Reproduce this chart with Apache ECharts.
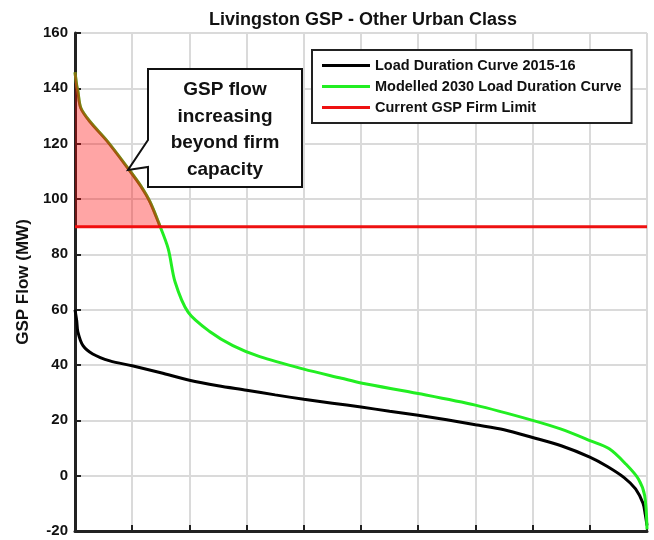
<!DOCTYPE html>
<html>
<head>
<meta charset="utf-8">
<script src="https://cdn.jsdelivr.net/npm/echarts@6/dist/echarts.min.js"></script>
<style>
html,body{margin:0;padding:0;background:#fff;}
#chart{width:654px;height:540px;}
</style>
</head>
<body>
<div id="chart"></div>
<script>
// Duration (% of time) and flow (MW) readings
var blackX = [0, 0.3, 0.5, 1.4, 3.1, 6.1, 10, 15, 20, 25, 30, 35, 40, 45, 50, 55, 60, 65, 70, 75, 80, 85, 90, 93, 96, 98, 99.3, 99.7, 100];
var blackY = [60, 56, 52, 47, 44, 41.5, 39.7, 37.2, 34.5, 32.5, 30.9, 29.2, 27.6, 26.2, 24.8, 23.3, 21.8, 20.2, 18.4, 16.6, 13.8, 10.8, 6.7, 3.4, -0.7, -4.8, -10, -14, -18];
var greenX = [0, 0.3, 0.5, 1, 2.6, 5.6, 9.3, 11.4, 13.1, 14.7, 16.3, 17.5, 19.8, 23.6, 27.6, 32.3, 40, 46.6, 50, 60, 70, 80, 85, 90, 93.4, 96.3, 98.5, 99.6, 100];
var greenY = [145.8, 141, 139, 133, 128, 121, 111, 105, 99, 91, 82, 70, 59, 52, 47, 43, 38.5, 35.2, 33.5, 29.7, 25.5, 20, 16.8, 12.7, 9.7, 4.2, -1.2, -7.3, -19.4];
var firmLimit = 90;
var firmLimitX = [0, 100];
var yTicks = [-20, 0, 20, 40, 60, 80, 100, 120, 140, 160];
var seriesNames = ['Load Duration Curve 2015-16', 'Modelled 2030 Load Duration Curve', 'Current GSP Firm Limit'];
var titleText = 'Livingston GSP - Other Urban Class';
var yAxisName = 'GSP Flow (MW)';
var calloutLines = ['GSP flow', 'increasing', 'beyond firm', 'capacity'];

function pairs(xs, ys) { return xs.map(function (x, i) { return [x, ys[i]]; }); }
var blackData = pairs(blackX, blackY);
var greenData = pairs(greenX, greenY);
// portion of the 2030 curve above the firm limit
var exceedData = [];
for (var i = 0; i < greenData.length; i++) {
  if (greenData[i][1] >= firmLimit) exceedData.push(greenData[i]);
  else {
    var p = greenData[i - 1], q = greenData[i];
    var t = (p[1] - firmLimit) / (p[1] - q[1]);
    exceedData.push([p[0] + t * (q[0] - p[0]), firmLimit]);
    break;
  }
}
var firmData = firmLimitX.map(function (x) { return [x, firmLimit]; });

var FONT = '"Liberation Sans", Arial, sans-serif';
var chart = echarts.init(document.getElementById('chart'), null, {renderer: 'canvas'});
chart.setOption({
  backgroundColor: '#fff',
  animation: false,
  title: {
    text: titleText, left: 358, top: 6, textAlign: 'center',
    textStyle: {fontFamily: FONT, fontSize: 18, fontWeight: 'bold', color: '#111'}
  },
  grid: {left: 75, right: 7, top: 33, bottom: 9},
  legend: {
    orient: 'vertical', left: 312, top: 50,
    data: seriesNames.map(function (n) { return {name: n, icon: 'rect'}; }),
    itemWidth: 48, itemHeight: 3, itemGap: 6,
    padding: [8, 10, 8, 10],
    borderColor: '#222', borderWidth: 2, backgroundColor: '#fff',
    textStyle: {fontFamily: FONT, fontSize: 14.5, fontWeight: 'bold', color: '#111'},
    z: 10
  },
  xAxis: {
    type: 'value', min: 0, max: 100, interval: 10,
    axisLine: {show: true, onZero: false, lineStyle: {color: '#222', width: 3}},
    axisTick: {show: true, inside: true, length: 6, lineStyle: {color: '#222', width: 2}},
    axisLabel: {show: false},
    splitLine: {show: true, lineStyle: {color: '#dadada', width: 2}}
  },
  yAxis: {
    type: 'value', min: -20, max: 160, interval: 20,
    name: yAxisName, nameLocation: 'middle', nameGap: 40,
    nameTextStyle: {fontFamily: FONT, fontSize: 17, fontWeight: 'bold', color: '#111'},
    axisLine: {show: true, onZero: false, lineStyle: {color: '#222', width: 3}},
    axisTick: {show: true, inside: true, length: 6, lineStyle: {color: '#222', width: 2}},
    axisLabel: {fontFamily: FONT, fontSize: 15, fontWeight: 'bold', color: '#111', margin: 7,
      formatter: function (v) { return yTicks.indexOf(v) >= 0 ? String(v) : ''; }},
    splitLine: {show: true, lineStyle: {color: '#dadada', width: 2}}
  },
  series: [
    {name: seriesNames[0], type: 'line', data: blackData, showSymbol: false, smooth: 0.3,
      lineStyle: {color: '#000', width: 3}, itemStyle: {color: '#000'}, z: 3},
    {name: seriesNames[1], type: 'line', data: greenData, showSymbol: false, smooth: 0.3,
      lineStyle: {color: '#22ee22', width: 3}, itemStyle: {color: '#22ee22'}, z: 4},
    {name: seriesNames[2], type: 'line', data: firmData, showSymbol: false,
      lineStyle: {color: '#ee1111', width: 3}, itemStyle: {color: '#ee1111'}, z: 5},
    {name: 'exceed', type: 'line', data: exceedData, showSymbol: false, smooth: 0.3,
      lineStyle: {color: 'rgba(230,0,0,0.5)', width: 3},
      areaStyle: {origin: firmLimit, color: 'rgba(255,0,0,0.5)'}, z: 6, silent: true}
  ],
  graphic: [
    {type: 'polygon', z: 20,
      shape: {points: [[148, 69], [302, 69], [302, 187], [148, 187], [148, 167], [128, 170], [148, 140]]},
      style: {fill: '#fff', stroke: '#111', lineWidth: 2}},
    {type: 'text', z: 21, x: 225, y: 77,
      style: {text: calloutLines.join('\n'), textAlign: 'center', textVerticalAlign: 'top', fill: '#111',
        font: 'bold 19px ' + FONT, lineHeight: 26.5}}
  ]
});
</script>
</body>
</html>
